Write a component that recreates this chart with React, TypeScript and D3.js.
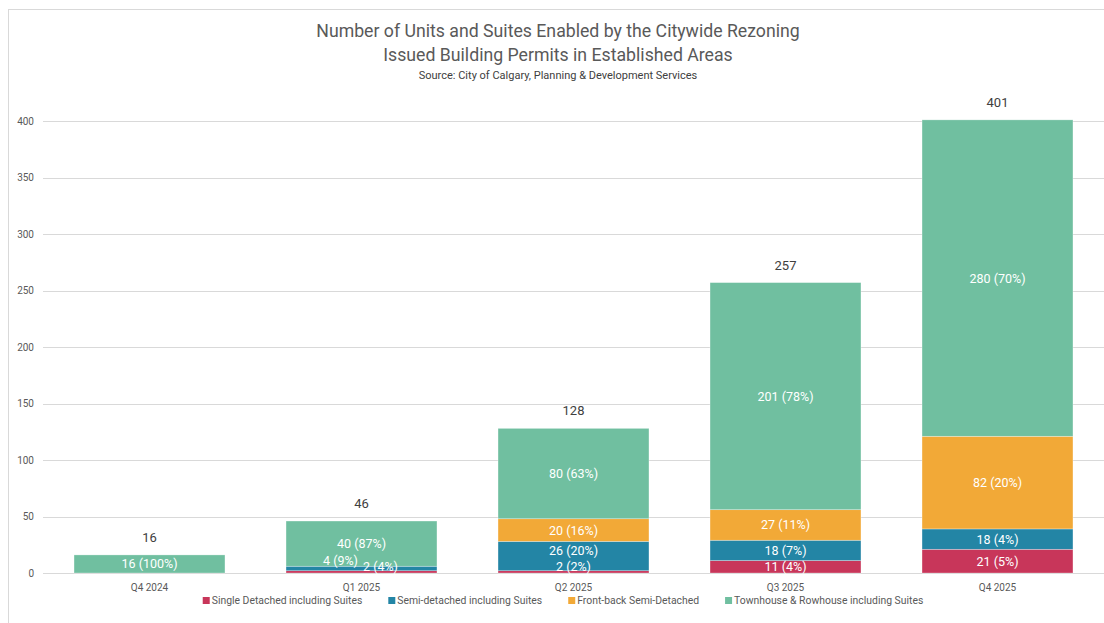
import React, { useEffect, useRef } from "react";
import * as d3 from "d3";

const categories = ["Q4 2024", "Q1 2025", "Q2 2025", "Q3 2025", "Q4 2025"];
const seriesNames = [
  "Single Detached including Suites",
  "Semi-detached including Suites",
  "Front-back Semi-Detached",
  "Townhouse & Rowhouse including Suites",
];
const singleDetached = [0, 2, 2, 11, 21];
const semiDetached = [0, 4, 26, 18, 18];
const frontBack = [0, 0, 20, 27, 82];
const townhouse = [16, 40, 80, 201, 280];
const yTicks = [0, 50, 100, 150, 200, 250, 300, 350, 400];
const colors = ["#C8365A", "#2385A5", "#F2A937", "#70BFA0"];

const W = 1104;
const H = 623;
const FONT = "Roboto, 'Noto Sans', sans-serif";

export default function App() {
  const ref = useRef<SVGSVGElement>(null);

  useEffect(() => {
    const svg = d3.select(ref.current);
    svg.selectAll("*").remove();

    const series = [singleDetached, semiDetached, frontBack, townhouse];
    const rows = categories.map((c, i) => {
      const r: any = { cat: c };
      seriesNames.forEach((s, k) => (r[s] = series[k][i]));
      return r;
    });
    const totals = categories.map((_, i) => series.reduce((a, s) => a + s[i], 0));
    const stacked = d3.stack().keys(seriesNames)(rows);

    const x = d3
      .scaleBand()
      .domain(categories)
      .range([43.5, 1103.5])
      .paddingInner(0.288)
      .paddingOuter(0.144);
    const y = d3.scaleLinear().domain([0, 400]).range([573, 121]);

    // background + frame
    svg.append("rect").attr("x", 0).attr("y", 0).attr("width", W).attr("height", H).attr("fill", "#fff");
    svg
      .append("rect")
      .attr("x", 8.5)
      .attr("y", 9.5)
      .attr("width", W + 20)
      .attr("height", H + 20)
      .attr("fill", "none")
      .attr("stroke", "#d9d9d9")
      .attr("stroke-width", 1);

    // title
    const t = svg.append("g").attr("font-family", FONT).attr("text-anchor", "middle");
    t.append("text").attr("x", 558).attr("y", 37).attr("font-size", 17.7).attr("fill", "#595959").text("Number of Units and Suites Enabled by the Citywide Rezoning");
    t.append("text").attr("x", 558).attr("y", 61).attr("font-size", 17.7).attr("fill", "#595959").text("Issued Building Permits in Established Areas");
    t.append("text").attr("x", 558).attr("y", 79).attr("font-size", 11).attr("fill", "#404040").text("Source: City of Calgary, Planning & Development Services");

    // gridlines
    const g = svg.append("g");
    g.selectAll("line.grid")
      .data(yTicks)
      .join("line")
      .attr("x1", 43)
      .attr("x2", W)
      .attr("y1", (d) => Math.round(y(d)) + 0.5)
      .attr("y2", (d) => Math.round(y(d)) + 0.5)
      .attr("stroke", "#d9d9d9")
      .attr("stroke-width", 1);
    g.selectAll("text.yt")
      .data(yTicks)
      .join("text")
      .attr("x", 34)
      .attr("y", (d) => y(d) + 3.5)
      .attr("text-anchor", "end")
      .attr("font-family", FONT)
      .attr("font-size", 10)
      .attr("fill", "#595959")
      .text((d) => d);

    // bars
    stacked.forEach((layer, k) => {
      svg
        .append("g")
        .selectAll("rect")
        .data(layer)
        .join("rect")
        .attr("x", (d: any) => x(d.data.cat)!)
        .attr("width", x.bandwidth())
        .attr("y", (d) => y(d[1]))
        .attr("height", (d) => y(d[0]) - y(d[1]))
        .attr("fill", colors[k])
        .attr("stroke", "#ffffff")
        .attr("stroke-opacity", 0.5)
        .attr("stroke-width", (d) => (d[1] - d[0] > 0 ? 0.6 : 0));
    });

    // segment labels
    const nudges: Record<string, [number, number]> = {
      "1-1": [-21, -6],
      "1-0": [19, 0],
      "2-1": [0, -6],
    };
    const lab = svg.append("g").attr("font-family", FONT).attr("font-size", 12.5).attr("fill", "#ffffff").attr("text-anchor", "middle");
    stacked.forEach((layer, k) => {
      layer.forEach((d: any, i) => {
        const v = d[1] - d[0];
        if (v <= 0) return;
        const pct = Math.round((v / totals[i]) * 100);
        let cy = (y(d[0]) + y(d[1])) / 2;
        cy = Math.min(cy, y(0) - 6.5);
        const n = nudges[`${i}-${k}`] || [0, 0];
        lab
          .append("text")
          .attr("x", x(d.data.cat)! + x.bandwidth() / 2 + n[0])
          .attr("y", cy + 4.5 + n[1])
          .text(`${v} (${pct}%)`);
      });
    });

    // totals
    svg
      .append("g")
      .selectAll("text")
      .data(categories)
      .join("text")
      .attr("x", (c) => x(c)! + x.bandwidth() / 2)
      .attr("y", (_, i) => y(totals[i]) - 13)
      .attr("text-anchor", "middle")
      .attr("font-family", FONT)
      .attr("font-size", 13)
      .attr("fill", "#404040")
      .text((_, i) => totals[i]);

    // category labels
    svg
      .append("g")
      .selectAll("text")
      .data(categories)
      .join("text")
      .attr("x", (c) => x(c)! + x.bandwidth() / 2)
      .attr("y", 591)
      .attr("text-anchor", "middle")
      .attr("font-family", FONT)
      .attr("font-size", 10)
      .attr("fill", "#595959")
      .text((c) => c);

    // legend
    const leg = svg.append("g").attr("font-family", FONT).attr("font-size", 10.4).attr("fill", "#595959");
    const items = seriesNames.map((s, k) => {
      const gi = leg.append("g");
      gi.append("rect").attr("width", 7).attr("height", 7).attr("y", -6).attr("fill", colors[k]);
      const tx = gi.append("text").attr("x", 9).attr("y", 0.5).text(s);
      const w = (tx.node() as SVGTextElement).getComputedTextLength() + 9;
      return { gi, w };
    });
    const gap = 26;
    const total = items.reduce((a, it) => a + it.w, 0) + gap * (items.length - 1);
    let cx = 563 - total / 2;
    items.forEach((it) => {
      it.gi.attr("transform", `translate(${cx},603)`);
      cx += it.w + gap;
    });
  }, []);

  return (
    <svg ref={ref} width={W} height={H} style={{ display: "block", position: "absolute", left: 0, top: 0 }} />
  );
}
